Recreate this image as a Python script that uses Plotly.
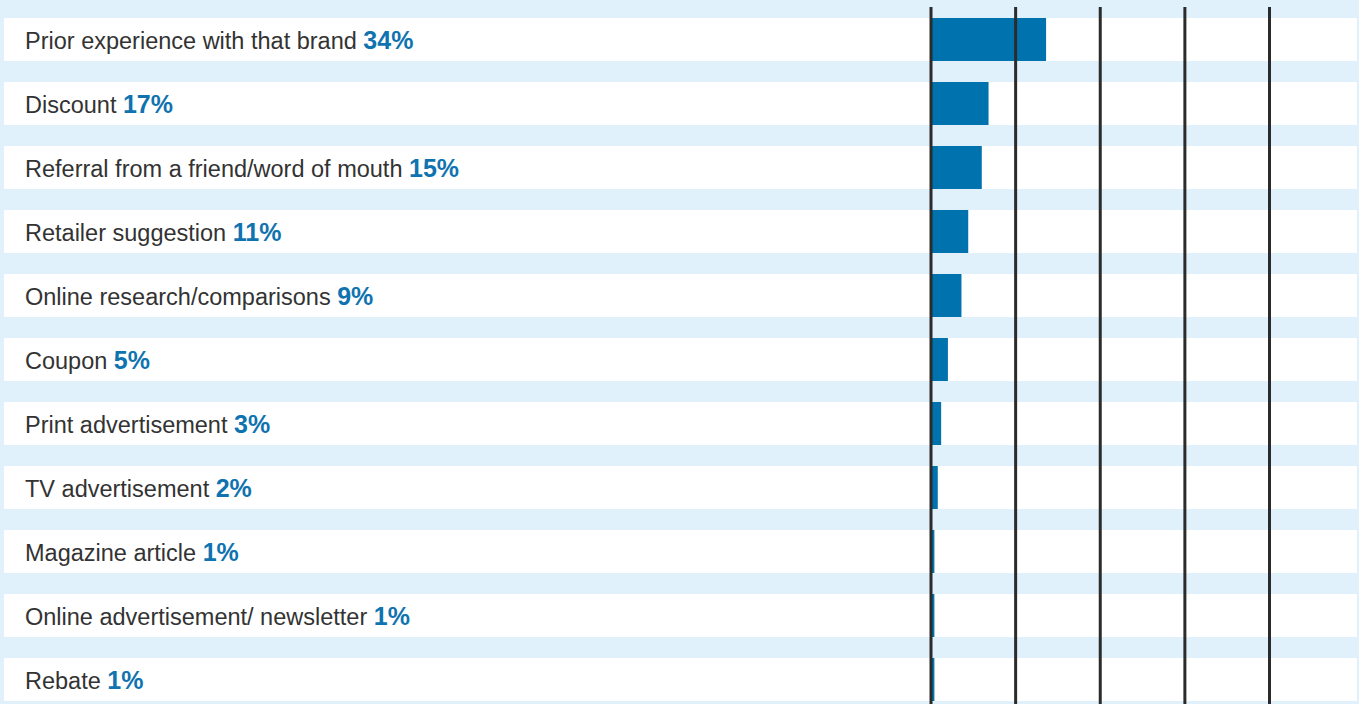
import plotly.graph_objects as go

categories = [
    "Prior experience with that brand",
    "Discount",
    "Referral from a friend/word of mouth",
    "Retailer suggestion",
    "Online research/comparisons",
    "Coupon",
    "Print advertisement",
    "TV advertisement",
    "Magazine article",
    "Online advertisement/ newsletter",
    "Rebate",
]
values = [34, 17, 15, 11, 9, 5, 3, 2, 1, 1, 1]
grid_ticks = [0, 25, 50, 75, 100]

W, H = 1359, 704
BG = "#e0f1fb"
BAR = "#0072ae"
PCT = "#0f73b0"
TXT = "#333333"
GRID = "#2b2b2b"

row_px = 64
first_center = 39.5
band_px = 43
n = len(categories)
idx = list(range(n))

y_top = -first_center / row_px
y_bot = y_top + H / row_px
top_off = 7
y2_top = -(first_center - top_off) / row_px
y2_bot = y_bot

px_per = 3.385
x0_px = 931
dom_left_px = 924
x2_min = -(x0_px - dom_left_px) / px_per
x2_max = (W - x0_px) / px_per

fig = go.Figure()

# white row bands
fig.add_trace(go.Bar(
    x=[1] * n, y=idx, orientation="h", width=band_px / row_px,
    marker=dict(color="white", line=dict(width=0)),
    xaxis="x", yaxis="y", hoverinfo="skip", showlegend=False,
))

# data bars
fig.add_trace(go.Bar(
    x=values, y=idx, orientation="h", width=band_px / row_px,
    marker=dict(color=BAR, line=dict(width=0)),
    xaxis="x2", yaxis="y2", showlegend=False,
    hovertemplate="%{x}%<extra></extra>",
))

# vertical grid lines drawn above bars
gx, gy = [], []
for t in grid_ticks:
    gx += [t, t, None]
    gy += [y2_top, y2_bot, None]
fig.add_trace(go.Scatter(
    x=gx, y=gy, mode="lines", line=dict(color=GRID, width=3),
    xaxis="x2", yaxis="y2", hoverinfo="skip", showlegend=False,
))

annotations = []
for i, (c, v) in enumerate(zip(categories, values)):
    annotations.append(dict(
        text=(f"{c} <span style='color:{PCT};font-size:25px'><b>{v}%</b></span>"),
        x=23 / W, xref="paper", xanchor="left",
        y=i, yref="y", yanchor="middle",
        showarrow=False,
        font=dict(family="Liberation Sans, Arial, sans-serif", size=23.5, color=TXT),
    ))

fig.update_layout(
    width=W, height=H,
    margin=dict(l=0, r=0, t=0, b=0),
    paper_bgcolor=BG, plot_bgcolor="rgba(0,0,0,0)",
    showlegend=False,
    xaxis=dict(domain=[4 / W, 1357 / W], range=[0, 1], visible=False, fixedrange=True),
    yaxis=dict(domain=[0, 1], range=[y_bot, y_top], visible=False, fixedrange=True),
    xaxis2=dict(domain=[dom_left_px / W, 1], range=[x2_min, x2_max], visible=False,
                anchor="y2", fixedrange=True),
    yaxis2=dict(domain=[0, (H - top_off) / H], range=[y2_bot, y2_top], visible=False,
                anchor="x2", fixedrange=True),
    annotations=annotations,
)

fig.write_html("out.html", config={"displayModeBar": False})
